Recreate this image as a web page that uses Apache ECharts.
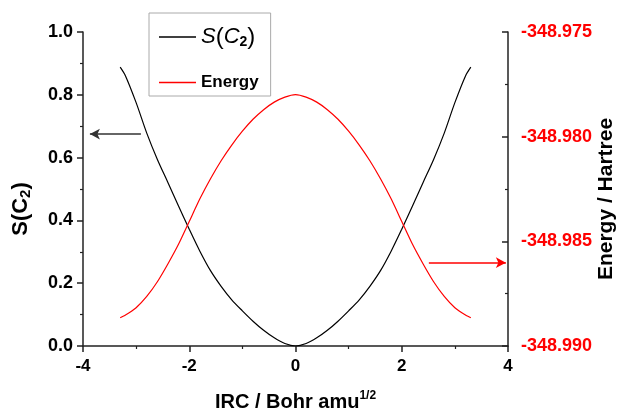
<!DOCTYPE html>
<html>
<head>
<meta charset="utf-8">
<script src="https://cdn.jsdelivr.net/npm/echarts@6/dist/echarts.min.js"></script>
<style>
  html, body { margin: 0; padding: 0; background: #fff; }
  #chart { width: 618px; height: 411px; }
</style>
</head>
<body>
<div id="chart"></div>
<script>
// IRC coordinate (Bohr amu^1/2)
const irc = [-3.3, -3.2, -3.0, -2.8, -2.6, -2.4, -2.2, -2.0, -1.8, -1.6, -1.4, -1.2, -1.0, -0.8, -0.6, -0.4, -0.2,
  0, 0.2, 0.4, 0.6, 0.8, 1.0, 1.2, 1.4, 1.6, 1.8, 2.0, 2.2, 2.4, 2.6, 2.8, 3.0, 3.2, 3.3];

// S(C2) values (left axis)
const sC2 = [0.888, 0.860, 0.775, 0.678, 0.594, 0.520, 0.445, 0.372, 0.302, 0.240, 0.190, 0.147, 0.112, 0.079, 0.050, 0.026, 0.008,
  0.000, 0.008, 0.026, 0.050, 0.079, 0.112, 0.147, 0.190, 0.240, 0.302, 0.372, 0.445, 0.520, 0.594, 0.678, 0.775, 0.860, 0.888];

// Energy / Hartree (right axis)
const energy = [-348.98865, -348.98852, -348.98817, -348.98763, -348.98693, -348.98607, -348.98513, -348.98405, -348.98297,
  -348.98201, -348.98115, -348.98040, -348.97974, -348.97917, -348.97871, -348.97835, -348.97811,
  -348.97799,
  -348.97811, -348.97835, -348.97871, -348.97917, -348.97974, -348.98040, -348.98115, -348.98201, -348.98297,
  -348.98405, -348.98513, -348.98607, -348.98693, -348.98763, -348.98817, -348.98852, -348.98865];

// arrows pointing to the matching axis
const leftArrow = [[-2.91, 0.675], [-3.87, 0.675]];
const rightArrow = [[2.51, -348.98602], [3.96, -348.98602]];

const font = 'Liberation Sans, Arial, sans-serif';

const axisLine = { show: true, onZero: false, lineStyle: { color: '#222', width: 1.5 } };
const minorTick = { show: true, splitNumber: 2, length: 3, lineStyle: { color: '#222', width: 1.2 } };

const chart = echarts.init(document.getElementById('chart'));
chart.setOption({
  animation: false,
  textStyle: { fontFamily: font },
  grid: { left: 83, right: 110, top: 32, bottom: 65, outerBoundsMode: 'none' },
  legend: {
    orient: 'vertical',
    left: 149,
    top: 13,
    padding: [12, 12, 5, 10],
    itemGap: 25,
    itemWidth: 37,
    itemHeight: 1.5,
    borderColor: '#aaa',
    borderWidth: 1,
    data: [{ name: 'S(C2)', icon: 'rect' }, { name: 'Energy', icon: 'rect' }],
    formatter: name => name === 'S(C2)' ? '{i|S}{p|(}{i|C}{sub|2}{p|)}' : name,
    textStyle: {
      fontSize: 17,
      fontWeight: 'bold',
      color: '#000',
      fontFamily: font,
      rich: {
        i: { fontSize: 22, fontStyle: 'italic', fontWeight: 'normal', color: '#000', fontFamily: font },
        p: { fontSize: 24, fontWeight: 'normal', color: '#000', fontFamily: font },
        sub: { fontSize: 14, fontWeight: 'bold', color: '#000', fontFamily: font, padding: [10, 0, 0, 0] }
      }
    }
  },
  xAxis: {
    type: 'value',
    min: -4,
    max: 4,
    interval: 2,
    name: '{t|IRC / Bohr amu}{s|1/2}',
    nameLocation: 'middle',
    nameGap: 44,
    nameMoveOverlap: false,
    nameTextStyle: {
      rich: {
        t: { fontSize: 20, fontWeight: 'bold', color: '#000', fontFamily: font },
        s: { fontSize: 12, fontWeight: 'bold', color: '#000', fontFamily: font, padding: [0, 0, 13, 0] }
      }
    },
    axisLine: axisLine,
    axisTick: { length: 6, lineStyle: { color: '#222', width: 1.5 } },
    minorTick: minorTick,
    splitLine: { show: false },
    axisLabel: { fontSize: 17, fontWeight: 'bold', color: '#000', margin: 12 }
  },
  yAxis: [
    {
      type: 'value',
      min: 0,
      max: 1,
      interval: 0.2,
      name: '{a|S(C}{b|2}{a|)}',
      nameLocation: 'middle',
      nameGap: 50,
      nameMoveOverlap: false,
      nameTextStyle: {
        padding: [0, 40, 0, 0],
        rich: {
          a: { fontSize: 22, fontWeight: 'bold', color: '#000', fontFamily: font },
          b: { fontSize: 15, fontWeight: 'bold', color: '#000', fontFamily: font, padding: [9, 0, 0, 0] }
        }
      },
      axisLine: axisLine,
      axisTick: { length: 6, lineStyle: { color: '#222', width: 1.5 } },
      minorTick: minorTick,
      splitLine: { show: false },
      axisLabel: { fontSize: 18, fontWeight: 'bold', color: '#000', margin: 10, formatter: v => v.toFixed(1) }
    },
    {
      type: 'value',
      position: 'right',
      min: -348.990,
      max: -348.975,
      interval: 0.005,
      name: 'Energy / Hartree',
      nameLocation: 'middle',
      nameGap: 88,
      nameMoveOverlap: false,
      nameTextStyle: { fontSize: 21, fontWeight: 'bold', color: '#000', padding: [0, 20, 0, 0] },
      axisLine: axisLine,
      axisTick: { inside: true, length: 6, lineStyle: { color: '#222', width: 1.5 } },
      minorTick: minorTick,
      splitLine: { show: false },
      axisLabel: { fontSize: 18, fontWeight: 'bold', color: '#ff0000', margin: 13, formatter: v => v.toFixed(3) }
    }
  ],
  series: [
    {
      name: 'S(C2)',
      type: 'line',
      symbol: 'none',
      smooth: 0.3,
      yAxisIndex: 0,
      data: irc.map((x, i) => [x, sC2[i]]),
      lineStyle: { color: '#000', width: 1.2 },
      itemStyle: { color: '#000' },
      markLine: {
        silent: true,
        symbol: ['none', 'arrow'],
        symbolSize: [8, 10],
        label: { show: false },
        lineStyle: { color: '#333', width: 1.5, type: 'solid' },
        data: [[{ coord: leftArrow[0] }, { coord: leftArrow[1] }]]
      }
    },
    {
      name: 'Energy',
      type: 'line',
      symbol: 'none',
      smooth: 0.2,
      yAxisIndex: 1,
      data: irc.map((x, i) => [x, energy[i]]),
      lineStyle: { color: '#ff0000', width: 1.2 },
      itemStyle: { color: '#ff0000' },
      markLine: {
        silent: true,
        symbol: ['none', 'arrow'],
        symbolSize: [8, 10],
        label: { show: false },
        lineStyle: { color: '#ff0000', width: 1.5, type: 'solid' },
        data: [[{ coord: rightArrow[0] }, { coord: rightArrow[1] }]]
      }
    }
  ]
});
</script>
</body>
</html>
